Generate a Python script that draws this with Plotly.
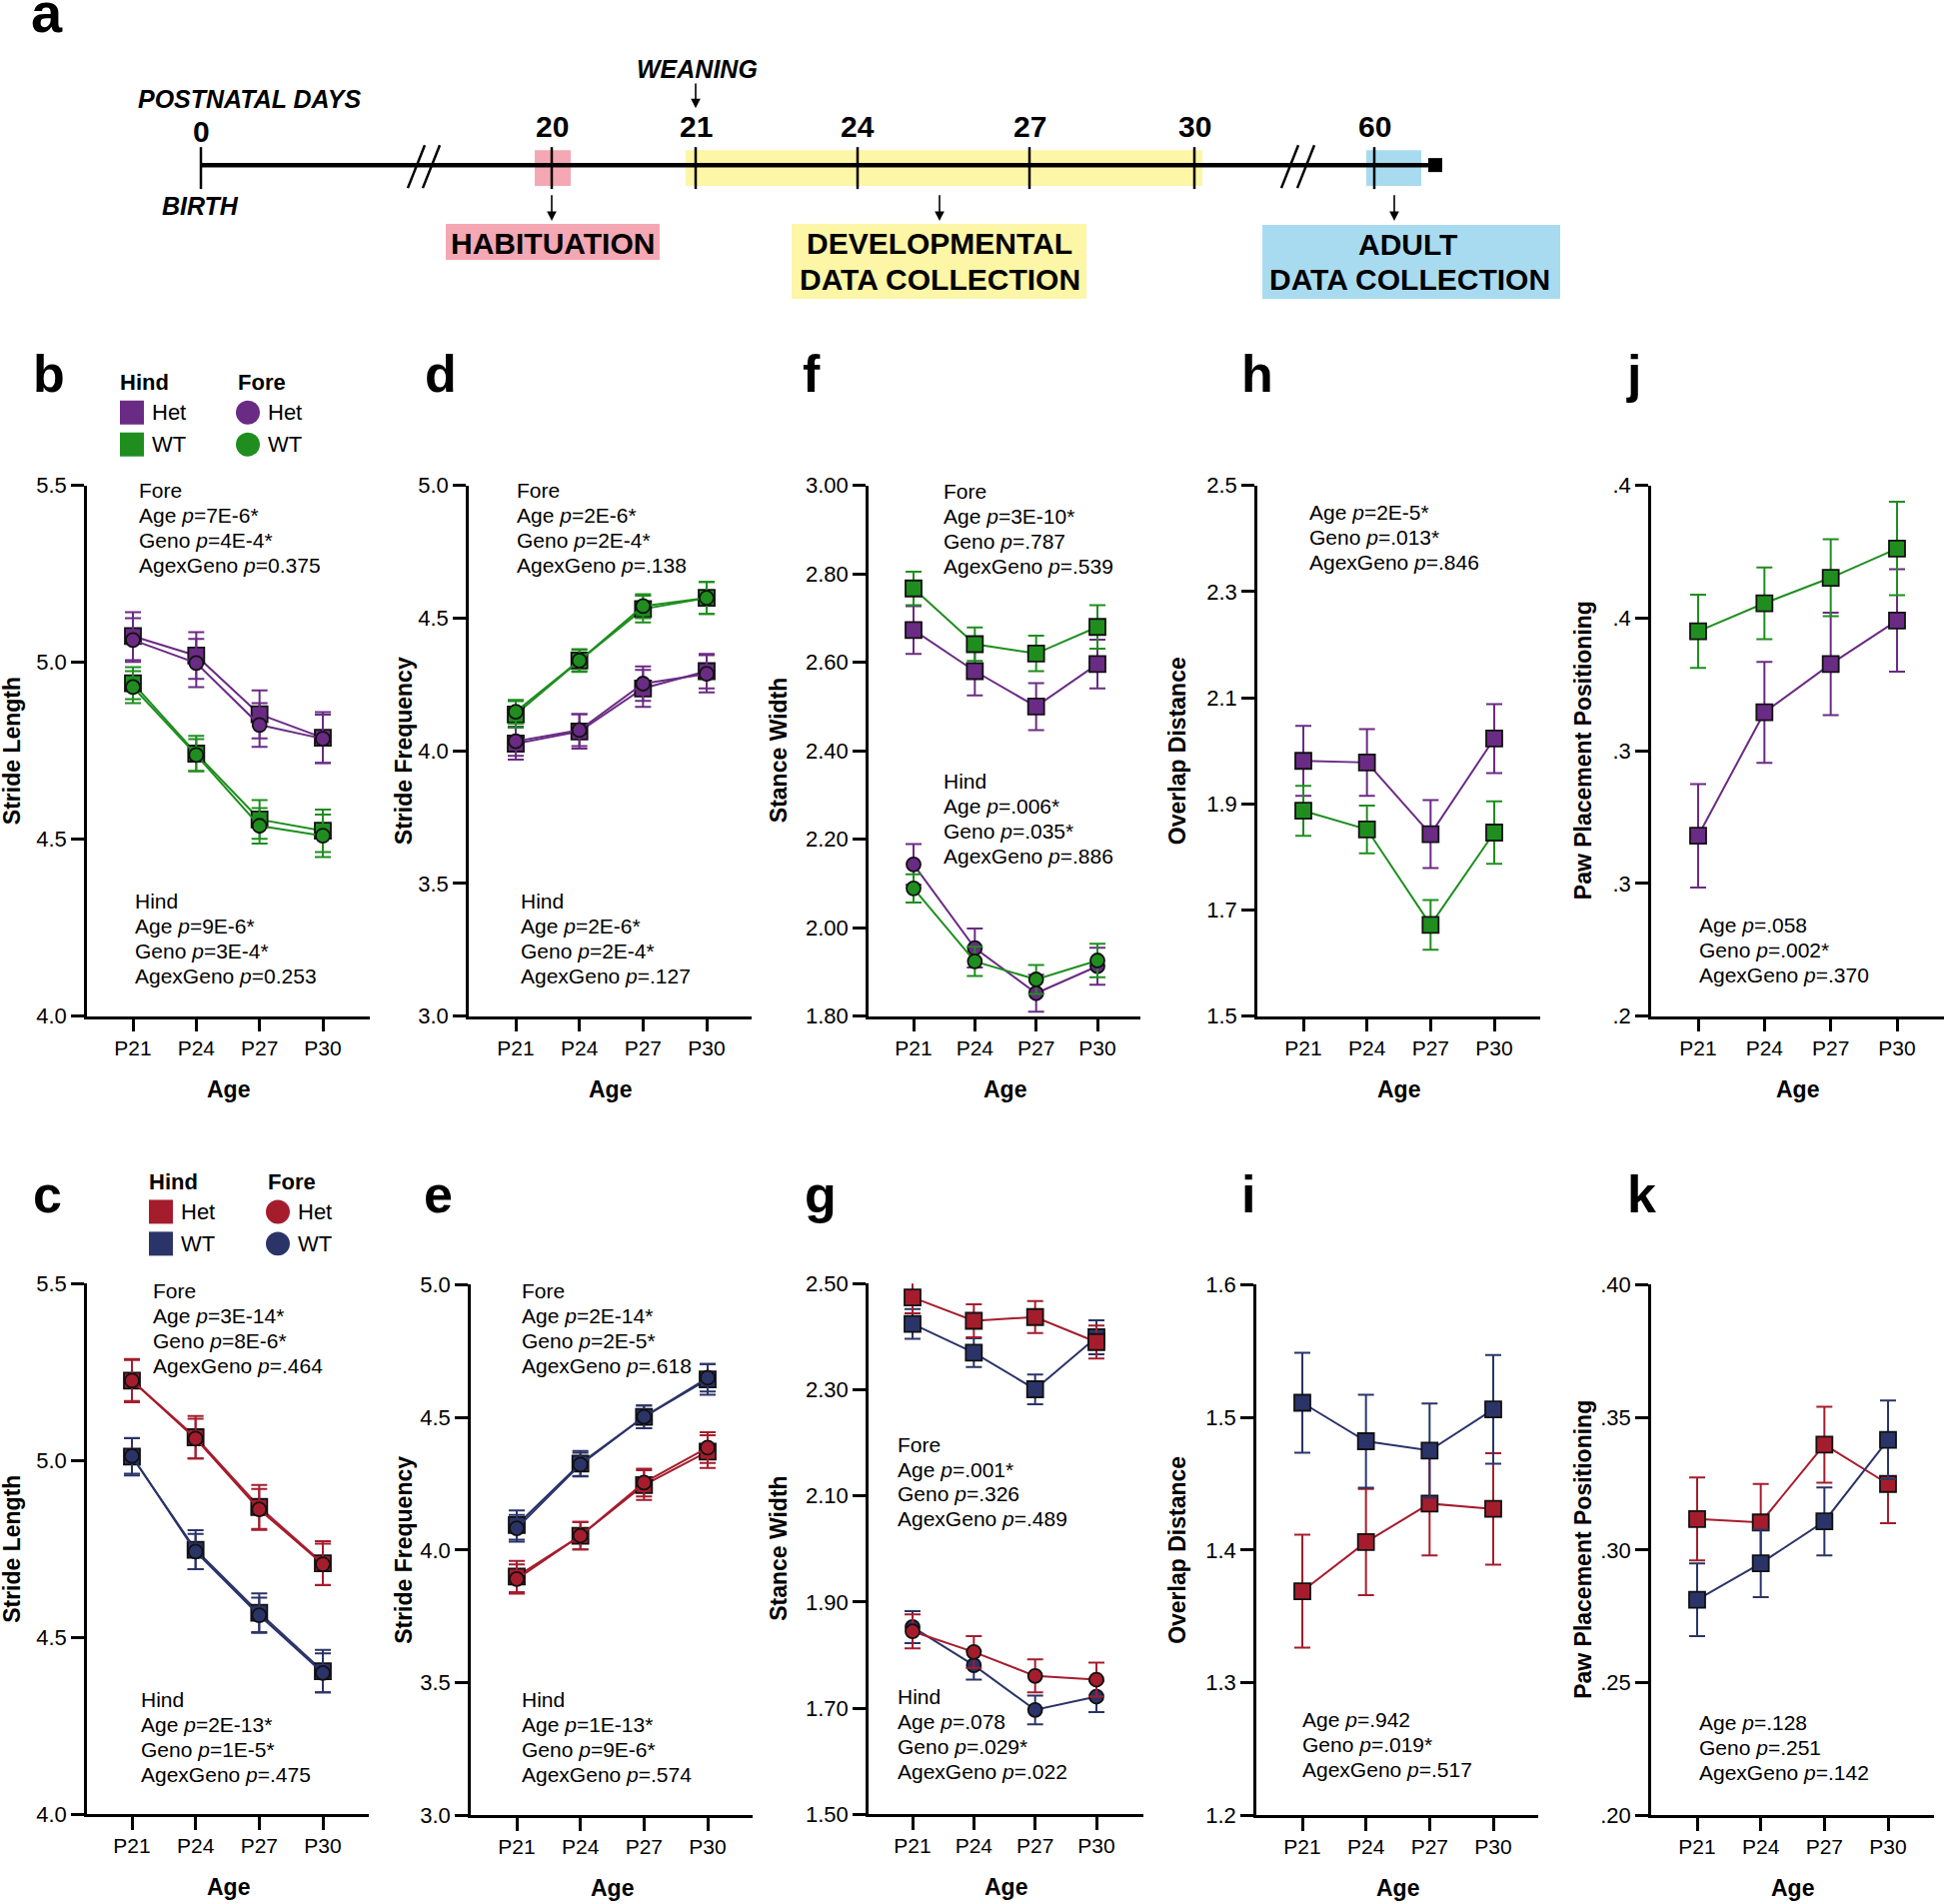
import plotly.graph_objects as go

W, H = 1946, 1905
ages = ["P21", "P24", "P27", "P30"]

# ---------------- data ----------------
# b: Stride Length, developmental (purple Het / green WT)
b_hind_het = [5.074, 5.019, 4.853, 4.787]; b_hind_het_err = [0.068, 0.066, 0.068, 0.072]
b_fore_het = [5.063, 4.998, 4.823, 4.784]; b_fore_het_err = [0.062, 0.068, 0.062, 0.068]
b_hind_wt = [4.941, 4.742, 4.556, 4.524]; b_hind_wt_err = [0.045, 0.050, 0.055, 0.060]
b_fore_wt = [4.930, 4.738, 4.538, 4.510]; b_fore_wt_err = [0.045, 0.045, 0.050, 0.060]
# d: Stride Frequency
d_hind_wt = [4.137, 4.340, 4.534, 4.576]; d_hind_wt_err = [0.050, 0.043, 0.050, 0.060]
d_fore_wt = [4.147, 4.340, 4.545, 4.576]; d_fore_wt_err = [0.045, 0.040, 0.045, 0.060]
d_hind_het = [4.027, 4.073, 4.235, 4.300]; d_hind_het_err = [0.060, 0.065, 0.070, 0.065]
d_fore_het = [4.036, 4.078, 4.253, 4.290]; d_fore_het_err = [0.055, 0.060, 0.065, 0.070]
# f: Stance Width (upper = squares, lower = circles)
f_sq_wt = [2.767, 2.641, 2.620, 2.680]; f_sq_wt_err = [0.038, 0.038, 0.040, 0.049]
f_sq_het = [2.673, 2.580, 2.500, 2.596]; f_sq_het_err = [0.054, 0.055, 0.053, 0.055]
f_ci_het = [2.143, 1.954, 1.852, 1.913]; f_ci_het_err = [0.046, 0.044, 0.042, 0.042]
f_ci_wt = [2.089, 1.924, 1.883, 1.926]; f_ci_wt_err = [0.032, 0.033, 0.033, 0.038]
# h: Overlap Distance
h_het = [1.981, 1.978, 1.843, 2.023]; h_het_err = [0.066, 0.063, 0.064, 0.065]
h_wt = [1.887, 1.852, 1.672, 1.846]; h_wt_err = [0.047, 0.045, 0.047, 0.059]
# j: Paw Placement Positioning
j_wt = [0.345, 0.3556, 0.3652, 0.3762]; j_wt_err = [0.0138, 0.0135, 0.0145, 0.0176]
j_het = [0.268, 0.3145, 0.3327, 0.3491]; j_het_err = [0.0195, 0.019, 0.0193, 0.0193]
# c: Stride Length, adult (red Het / navy WT)
c_hind_het = [5.226, 5.066, 4.869, 4.710]; c_hind_het_err = [0.061, 0.060, 0.062, 0.062]
c_fore_het = [5.226, 5.062, 4.862, 4.707]; c_fore_het_err = [0.058, 0.056, 0.058, 0.058]
c_hind_wt = [5.011, 4.748, 4.570, 4.405]; c_hind_wt_err = [0.053, 0.055, 0.055, 0.060]
c_fore_wt = [5.013, 4.743, 4.563, 4.400]; c_fore_wt_err = [0.050, 0.050, 0.050, 0.055]
# e: Stride Frequency
e_hind_wt = [4.094, 4.326, 4.502, 4.643]; e_hind_wt_err = [0.055, 0.047, 0.043, 0.058]
e_fore_wt = [4.082, 4.322, 4.502, 4.649]; e_fore_wt_err = [0.050, 0.045, 0.043, 0.052]
e_hind_het = [3.900, 4.054, 4.245, 4.371]; e_hind_het_err = [0.059, 0.052, 0.056, 0.062]
e_fore_het = [3.891, 4.054, 4.254, 4.386]; e_fore_het_err = [0.055, 0.052, 0.052, 0.058]
# g: Stance Width
g_sq_het = [2.474, 2.430, 2.437, 2.390]; g_sq_het_err = [0.030, 0.031, 0.030, 0.031]
g_sq_wt = [2.424, 2.370, 2.301, 2.399]; g_sq_wt_err = [0.028, 0.027, 0.028, 0.032]
g_ci_wt = [1.853, 1.781, 1.697, 1.722]; g_ci_wt_err = [0.030, 0.027, 0.027, 0.029]
g_ci_het = [1.845, 1.806, 1.761, 1.754]; g_ci_het_err = [0.032, 0.030, 0.031, 0.032]
# i: Overlap Distance
i_wt = [1.511, 1.482, 1.475, 1.506]; i_wt_err = [0.0377, 0.035, 0.0355, 0.041]
i_het = [1.369, 1.406, 1.435, 1.431]; i_het_err = [0.0425, 0.040, 0.039, 0.042]
# k: Paw Placement Positioning
k_het = [0.3117, 0.3104, 0.3397, 0.3249]; k_het_err = [0.0156, 0.0145, 0.0143, 0.0148]
k_wt = [0.2813, 0.2950, 0.3108, 0.3415]; k_wt_err = [0.0137, 0.0127, 0.0128, 0.0148]

# timeline (panel a)
timeline_days = ["0", "20", "21", "24", "27", "30", "60"]

# ---------------- styling ----------------
PURPLE = "#6A2B84"; GREEN = "#1F8E1F"; RED = "#A51D2D"; NAVY = "#2B3468"
FONT = "Liberation Sans, Arial, Helvetica, sans-serif"

# vertical correction measured from the rendered page
VS, VO = 0.9885, 9.6


def px(x):
    return x / W


def py(y):
    return 1 - ((y - VO) / VS) / H


fig = go.Figure()
annotations = []
shapes = []
layout = dict(width=W, height=H, margin=dict(l=0, r=0, t=0, b=0),
              paper_bgcolor="white", plot_bgcolor="white", showlegend=False,
              font=dict(family=FONT, color="black"))

# panel geometry in page pixels
panels = [
    dict(key="b", x0=87, x1=370, t0=133, t3=323, y0=484, y1=1016, yr=[4.0, 5.5], yt=[4.0, 4.5, 5.0, 5.5], fmt="{:.1f}", title="Stride Length", tx=12),
    dict(key="d", x0=469, x1=752, t0=516, t3=707, y0=484, y1=1016, yr=[3.0, 5.0], yt=[3.0, 3.5, 4.0, 4.5, 5.0], fmt="{:.1f}", title="Stride Frequency", tx=404),
    dict(key="f", x0=869, x1=1141, t0=914, t3=1098, y0=484, y1=1016, yr=[1.8, 3.0], yt=[1.8, 2.0, 2.2, 2.4, 2.6, 2.8, 3.0], fmt="{:.2f}", title="Stance Width", tx=779),
    dict(key="h", x0=1258, x1=1541, t0=1304, t3=1495, y0=484, y1=1016, yr=[1.5, 2.5], yt=[1.5, 1.7, 1.9, 2.1, 2.3, 2.5], fmt="{:.1f}", title="Overlap Distance", tx=1178),
    dict(key="j", x0=1652, x1=1945, t0=1699, t3=1898, y0=484, y1=1016, yr=[0.2, 0.4], yt=[0.2, 0.25, 0.3, 0.35, 0.4], ytext=[".2", ".3", ".3", ".4", ".4"], title="Paw Placement Positioning", tx=1584),
    dict(key="c", x0=87, x1=369, t0=132, t3=323, y0=1284, y1=1816, yr=[4.0, 5.5], yt=[4.0, 4.5, 5.0, 5.5], fmt="{:.1f}", title="Stride Length", tx=12),
    dict(key="e", x0=471, x1=753, t0=517, t3=708, y0=1285, y1=1817, yr=[3.0, 5.0], yt=[3.0, 3.5, 4.0, 4.5, 5.0], fmt="{:.1f}", title="Stride Frequency", tx=404),
    dict(key="g", x0=869, x1=1144, t0=913, t3=1097, y0=1284, y1=1816, yr=[1.5, 2.5], yt=[1.5, 1.7, 1.9, 2.1, 2.3, 2.5], fmt="{:.2f}", title="Stance Width", tx=779),
    dict(key="i", x0=1257, x1=1539, t0=1303, t3=1494, y0=1285, y1=1817, yr=[1.2, 1.6], yt=[1.2, 1.3, 1.4, 1.5, 1.6], fmt="{:.1f}", title="Overlap Distance", tx=1178),
    dict(key="k", x0=1652, x1=1935, t0=1698, t3=1889, y0=1285, y1=1817, yr=[0.2, 0.4], yt=[0.2, 0.25, 0.3, 0.35, 0.4], ytext=[".20", ".25", ".30", ".35", ".40"], title="Paw Placement Positioning", tx=1584),
]
axis_of = {}
for n, p in enumerate(panels, start=1):
    sp = (p["t3"] - p["t0"]) / 3.0
    xr = [(p["x0"] - p["t0"]) / sp, (p["x1"] - p["t0"]) / sp]
    xa = "xaxis" if n == 1 else f"xaxis{n}"
    ya = "yaxis" if n == 1 else f"yaxis{n}"
    xid = "x" if n == 1 else f"x{n}"
    yid = "y" if n == 1 else f"y{n}"
    axis_of[p["key"]] = (xid, yid)
    layout[xa] = dict(domain=[px(p["x0"]), px(p["x1"])], range=xr, type="category",
                      categoryorder="array", categoryarray=ages,
                      showline=True, linecolor="black", linewidth=2.5,
                      ticks="outside", ticklen=13, tickwidth=2.5, tickcolor="black",
                      showgrid=False, zeroline=False, anchor=yid,
                      tickfont=dict(size=21, family=FONT), ticklabelstandoff=-2, fixedrange=True)
    ytext = p.get("ytext") or [p["fmt"].format(v) for v in p["yt"]]
    layout[ya] = dict(domain=[py(p["y1"]), py(p["y0"])], range=p["yr"],
                      tickmode="array", tickvals=p["yt"], ticktext=ytext,
                      showline=True, linecolor="black", linewidth=2.5,
                      ticks="outside", ticklen=13, tickwidth=2.5, tickcolor="black",
                      showgrid=False, zeroline=False, anchor=xid,
                      tickfont=dict(size=22, family=FONT), fixedrange=True)
    # axis titles
    annotations.append(dict(x=px(p["tx"]), y=py((p["y0"] + p["y1"]) / 2), xref="paper", yref="paper",
                            text=p["title"], textangle=-90, showarrow=False,
                            xanchor="center", yanchor="middle",
                            font=dict(size=23, family=FONT, weight="bold")))
    annotations.append(dict(x=px((p["x0"] + p["x1"]) / 2), y=py(p["y1"] + 73), xref="paper", yref="paper",
                            text="Age", showarrow=False, xanchor="center", yanchor="middle",
                            font=dict(size=23, family=FONT, weight="bold")))


def series(panel, vals, errs, color, symbol, size):
    xid, yid = axis_of[panel]
    fig.add_trace(go.Scatter(
        x=ages, y=vals, xaxis=xid, yaxis=yid, mode="lines+markers",
        line=dict(color=color, width=2),
        marker=dict(symbol=symbol, size=size, color=color, line=dict(color="#111111", width=1.8)),
        error_y=dict(type="data", array=errs, visible=True, color=color, thickness=2, width=8),
        hoverinfo="skip"))


SQ, CI = 16, 14
# b
series("b", b_hind_wt, b_hind_wt_err, GREEN, "square", SQ)
series("b", b_fore_wt, b_fore_wt_err, GREEN, "circle", CI)
series("b", b_hind_het, b_hind_het_err, PURPLE, "square", SQ)
series("b", b_fore_het, b_fore_het_err, PURPLE, "circle", CI)
# d
series("d", d_hind_het, d_hind_het_err, PURPLE, "square", SQ)
series("d", d_fore_het, d_fore_het_err, PURPLE, "circle", CI)
series("d", d_hind_wt, d_hind_wt_err, GREEN, "square", SQ)
series("d", d_fore_wt, d_fore_wt_err, GREEN, "circle", CI)
# f
series("f", f_sq_het, f_sq_het_err, PURPLE, "square", SQ)
series("f", f_sq_wt, f_sq_wt_err, GREEN, "square", SQ)
series("f", f_ci_het, f_ci_het_err, PURPLE, "circle", CI)
series("f", f_ci_wt, f_ci_wt_err, GREEN, "circle", CI)
# h
series("h", h_het, h_het_err, PURPLE, "square", SQ)
series("h", h_wt, h_wt_err, GREEN, "square", SQ)
# j
series("j", j_het, j_het_err, PURPLE, "square", SQ)
series("j", j_wt, j_wt_err, GREEN, "square", SQ)
# c
series("c", c_hind_wt, c_hind_wt_err, NAVY, "square", SQ)
series("c", c_fore_wt, c_fore_wt_err, NAVY, "circle", CI)
series("c", c_hind_het, c_hind_het_err, RED, "square", SQ)
series("c", c_fore_het, c_fore_het_err, RED, "circle", CI)
# e
series("e", e_hind_het, e_hind_het_err, RED, "square", SQ)
series("e", e_fore_het, e_fore_het_err, RED, "circle", CI)
series("e", e_hind_wt, e_hind_wt_err, NAVY, "square", SQ)
series("e", e_fore_wt, e_fore_wt_err, NAVY, "circle", CI)
# g
series("g", g_sq_wt, g_sq_wt_err, NAVY, "square", SQ)
series("g", g_sq_het, g_sq_het_err, RED, "square", SQ)
series("g", g_ci_wt, g_ci_wt_err, NAVY, "circle", CI)
series("g", g_ci_het, g_ci_het_err, RED, "circle", CI)
# i
series("i", i_het, i_het_err, RED, "square", SQ)
series("i", i_wt, i_wt_err, NAVY, "square", SQ)
# k
series("k", k_het, k_het_err, RED, "square", SQ)
series("k", k_wt, k_wt_err, NAVY, "square", SQ)


# ---------------- statistics text ----------------
def stats(x, y, lines, step=25.0):
    for n, t in enumerate(lines):
        annotations.append(dict(x=px(x), y=py(y + n * step), xref="paper", yref="paper",
                                text=t, showarrow=False, xanchor="left", yanchor="middle",
                                font=dict(size=21, family=FONT)))


P = "<i>p</i>"
stats(137, 489, ["Fore", f"Age {P}=7E-6*", f"Geno {P}=4E-4*", f"AgexGeno {P}=0.375"])
stats(133, 901, ["Hind", f"Age {P}=9E-6*", f"Geno {P}=3E-4*", f"AgexGeno {P}=0.253"])
stats(515, 489, ["Fore", f"Age {P}=2E-6*", f"Geno {P}=2E-4*", f"AgexGeno {P}=.138"])
stats(519, 901, ["Hind", f"Age {P}=2E-6*", f"Geno {P}=2E-4*", f"AgexGeno {P}=.127"])
stats(942, 490, ["Fore", f"Age {P}=3E-10*", f"Geno {P}=.787", f"AgexGeno {P}=.539"])
stats(942, 780, ["Hind", f"Age {P}=.006*", f"Geno {P}=.035*", f"AgexGeno {P}=.886"])
stats(1308, 511, [f"Age {P}=2E-5*", f"Geno {P}=.013*", f"AgexGeno {P}=.846"])
stats(1698, 925, [f"Age {P}=.058", f"Geno {P}=.002*", f"AgexGeno {P}=.370"])
stats(151, 1291, ["Fore", f"Age {P}=3E-14*", f"Geno {P}=8E-6*", f"AgexGeno {P}=.464"])
stats(139, 1701, ["Hind", f"Age {P}=2E-13*", f"Geno {P}=1E-5*", f"AgexGeno {P}=.475"])
stats(520, 1291, ["Fore", f"Age {P}=2E-14*", f"Geno {P}=2E-5*", f"AgexGeno {P}=.618"])
stats(520, 1701, ["Hind", f"Age {P}=1E-13*", f"Geno {P}=9E-6*", f"AgexGeno {P}=.574"])
stats(896, 1445, ["Fore", f"Age {P}=.001*", f"Geno {P}=.326", f"AgexGeno {P}=.489"])
stats(896, 1698, ["Hind", f"Age {P}=.078", f"Geno {P}=.029*", f"AgexGeno {P}=.022"])
stats(1301, 1721, [f"Age {P}=.942", f"Geno {P}=.019*", f"AgexGeno {P}=.517"])
stats(1698, 1724, [f"Age {P}=.128", f"Geno {P}=.251", f"AgexGeno {P}=.142"])


# ---------------- panel letters ----------------
def letter(t, x, y, size=52):
    annotations.append(dict(x=px(x), y=py(y), xref="paper", yref="paper", text=t, showarrow=False,
                            xanchor="left", yanchor="middle",
                            font=dict(size=size, family=FONT, weight="bold")))


letter("a", 29, 10, 56)
for t, x in [("b", 31), ("d", 423), ("f", 801), ("h", 1240), ("j", 1625)]:
    letter(t, x, 372)
for t, x in [("c", 31), ("e", 422), ("g", 803), ("i", 1240), ("k", 1626)]:
    letter(t, x, 1195)


# ---------------- legends ----------------
def txt(t, x, y, size=22, bold=False, italic=False, anchor="left"):
    f = dict(size=size, family=FONT)
    if bold:
        f["weight"] = "bold"
    if italic:
        f["style"] = "italic"
    annotations.append(dict(x=px(x), y=py(y), xref="paper", yref="paper", text=t, showarrow=False,
                            xanchor=anchor, yanchor="middle", font=f))


def legend(het, wt, xs, xc, ytop):
    txt("Hind", xs - 2, ytop, bold=True)
    txt("Fore", xc, ytop, bold=True)
    for col, yy, lab in [(het, ytop + 30, "Het"), (wt, ytop + 62, "WT")]:
        shapes.append(dict(type="rect", xref="paper", yref="paper", x0=px(xs), x1=px(xs + 24),
                           y0=py(yy + 12), y1=py(yy - 12), fillcolor=col, line=dict(width=0)))
        shapes.append(dict(type="circle", xref="paper", yref="paper", x0=px(xc), x1=px(xc + 24),
                           y0=py(yy + 12), y1=py(yy - 12), fillcolor=col, line=dict(width=0)))
        txt(lab, xs + 30, yy)
        txt(lab, xc + 30, yy)


legend(PURPLE, GREEN, 120, 236, 381)
legend(RED, NAVY, 149, 266, 1182)

# ---------------- panel a: timeline ----------------
tl_x = [201, 552, 696, 858, 1030, 1195, 1375]
LINE_Y = 163


def rect(x0, x1, y0, y1, color):
    shapes.append(dict(type="rect", xref="paper", yref="paper", x0=px(x0), x1=px(x1),
                       y0=py(y1), y1=py(y0), fillcolor=color, line=dict(width=0), layer="below"))


def seg(x0, y0, x1, y1, w=2.5):
    shapes.append(dict(type="line", xref="paper", yref="paper", x0=px(x0), y0=py(y0),
                       x1=px(x1), y1=py(y1), line=dict(color="black", width=w)))


PINK = "#F4A8B3"; YELLOW = "#FCF6A6"; BLUE = "#A8DBF0"
rect(535, 571, 148, 184, PINK)
rect(686, 1203, 148, 184, YELLOW)
rect(1367, 1422, 148, 184, BLUE)
seg(201, LINE_Y, 1432, LINE_Y, 4.5)
for x in tl_x:
    seg(x, 145, x, 187, 2.5)
for xb in [408, 423, 1282, 1298]:
    seg(xb, 186, xb + 17, 143, 2.5)
shapes.append(dict(type="rect", xref="paper", yref="paper", x0=px(1429), x1=px(1443),
                   y0=py(170), y1=py(156), fillcolor="black", line=dict(width=0)))
for t, x in zip(timeline_days, tl_x):
    txt(t, x, 129 if t == "0" else 124, size=30, bold=True, anchor="center")
txt("WEANING", 697, 67, size=25, bold=True, italic=True, anchor="center")
txt("POSTNATAL DAYS", 249, 97, size=25, bold=True, italic=True, anchor="center")
txt("BIRTH", 200, 204, size=25, bold=True, italic=True, anchor="center")


def arrow(x, y_tail, y_head):
    annotations.append(dict(x=px(x), y=py(y_head), ax=0, ay=(y_tail - y_head) / VS,
                            xref="paper", yref="paper", axref="pixel", ayref="pixel",
                            text="", showarrow=True,
                            arrowhead=2, arrowsize=1.2, arrowwidth=1.6, arrowcolor="black"))


arrow(696, 80, 106)
arrow(552, 192, 219)
arrow(940, 192, 219)
arrow(1395, 192, 219)
rect(446, 660, 222, 258, PINK)
rect(792, 1087, 222, 297, YELLOW)
rect(1263, 1561, 223, 297, BLUE)
txt("HABITUATION", 553, 241, size=30, bold=True, anchor="center")
txt("DEVELOPMENTAL", 940, 241, size=30, bold=True, anchor="center")
txt("DATA COLLECTION", 940, 278, size=30, bold=True, anchor="center")
txt("ADULT", 1408, 242, size=30, bold=True, anchor="center")
txt("DATA COLLECTION", 1410, 278, size=30, bold=True, anchor="center")

layout["annotations"] = annotations
layout["shapes"] = shapes
fig.update_layout(**layout)
fig.write_html("out.html", config={"displayModeBar": False},
               post_script="document.body.style.margin='0px';document.body.style.padding='0px';"
                           "document.documentElement.style.overflow='hidden';")
